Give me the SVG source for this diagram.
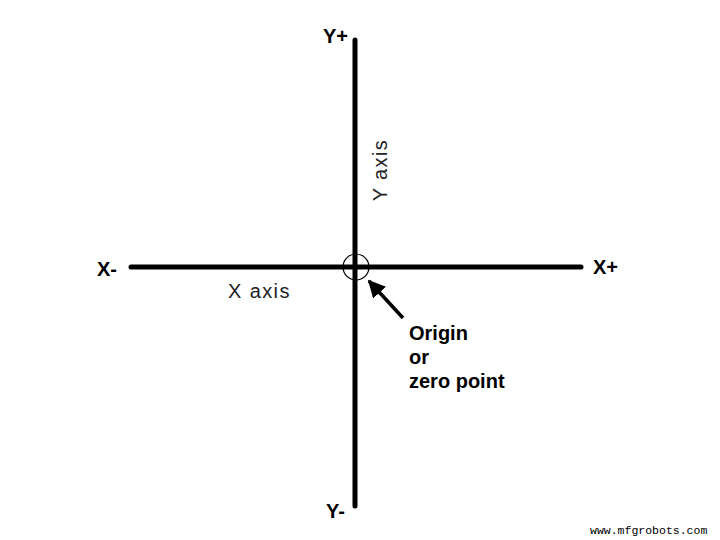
<svg xmlns="http://www.w3.org/2000/svg" width="720" height="540" viewBox="0 0 720 540">
<style>
.lbl{font-family:"Liberation Sans",Arial,sans-serif;font-weight:bold;font-size:20px;fill:#000}
.ax{font-family:"Liberation Sans",Arial,sans-serif;font-size:20px;letter-spacing:1.4px;fill:#222}
.axis{stroke:#000;stroke-width:5;stroke-linecap:round}
</style>
<defs>
<marker id="ah" viewBox="0 0 10 10" refX="9" refY="5" markerWidth="5" markerHeight="5" orient="auto" markerUnits="strokeWidth">
<path d="M0,0 L10,5 L0,10 Z" fill="#000"/>
</marker>
</defs>
<rect width="720" height="540" fill="#fff"/>
<g id="connectors">
<line class="axis" x1="355" y1="40" x2="355" y2="506"/>
<line class="axis" x1="131" y1="267" x2="581" y2="267"/>
<line x1="403" y1="318" x2="369" y2="281" stroke="#000" stroke-width="3.5" marker-end="url(#ah)"/>
</g>
<g id="origin">
<circle cx="356" cy="267" r="13" fill="none" stroke="#000" stroke-width="1.2"/>
</g>
<g id="labels">
<text class="lbl" x="323" y="43">Y+</text>
<text class="lbl" x="326" y="518">Y-</text>
<text class="lbl" x="97" y="276">X-</text>
<text class="lbl" x="593" y="274">X+</text>
<text class="ax" x="228" y="298">X axis</text>
<text class="ax" transform="translate(387,170) rotate(-90)" text-anchor="middle">Y axis</text>
<text class="lbl" x="409" y="340">Origin</text>
<text class="lbl" x="409" y="364">or</text>
<text class="lbl" x="409" y="388">zero point</text>
</g>
<text x="590" y="534" font-family="Liberation Mono,'Courier New',monospace" font-size="11.5" fill="#000">www.mfgrobots.com</text>
</svg>
